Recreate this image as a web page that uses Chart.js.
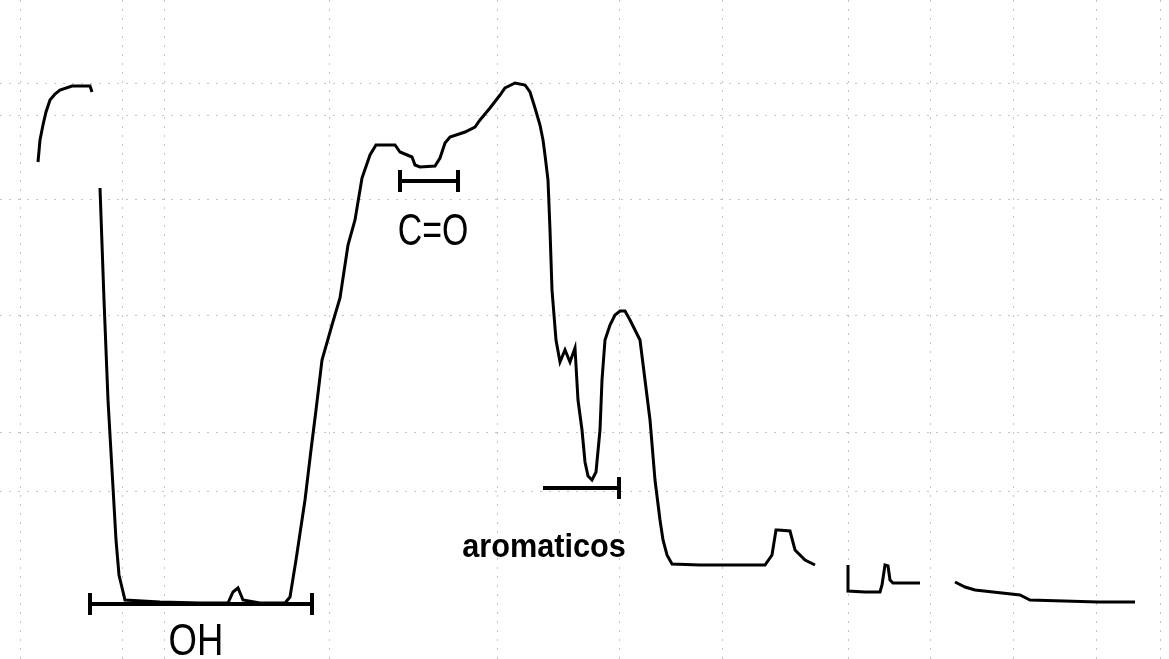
<!DOCTYPE html>
<html>
<head>
<meta charset="utf-8">
<script src="https://cdn.jsdelivr.net/npm/chart.js@4/dist/chart.umd.min.js"></script>
<style>
  body { margin: 0; background: #fff; }
  #wrap { width: 1169px; height: 659px; }
</style>
</head>
<body>
<div id="wrap"><canvas id="espectro"></canvas></div>
<script>
// posicion horizontal del trazo (unidades del papel) y transmitancia leida (0 arriba)
var posX = [38, 40, 43, 46, 50, 55, 60, 72, 90, 92, null,
    100, 104, 108, 112, 116, 119, 125, 160, 200, 228, 233, 238, 243, 260, 285,
    290, 296, 305, 311, 316, 322, 332, 340, 348, 355, 362, 370, 376, 395, 400,
    412, 415, 420, 435, 440, 445, 450, 465, 475, 480, 490, 500, 505, 515, 525,
    530, 535, 540, 543, 545, 548, 550, 552, 556, 560, 565, 570, 575, 578, 582,
    585, 588, 592, 596, 600, 602, 605, 610, 615, 620, 625, 630, 640, 645, 650,
    655, 660, 663, 667, 672, 700, 765, 772, 776, 778, 790, 795, 805, 815, null,
    848, 848, 865, 880, 882, 885, 888, 890, 893, 920, null,
    955, 965, 975, 1020, 1030, 1098, 1135];
var transm = [162, 140, 125, 112, 100, 94, 90, 86, 86, 92, null,
    188, 300, 400, 470, 540, 575, 600, 602, 603, 603, 592, 588, 600, 603, 603,
    597, 560, 500, 450, 410, 360, 325, 298, 245, 220, 178, 155, 145, 145, 152,
    157, 165, 167, 166, 158, 143, 137, 132, 127, 120, 108, 95, 88, 83, 85,
    92, 108, 125, 140, 155, 180, 230, 290, 340, 362, 350, 362, 348, 400, 430,
    462, 476, 480, 472, 430, 380, 340, 325, 315, 311, 311, 320, 340, 380, 420,
    480, 520, 540, 555, 564, 565, 565, 555, 530, 530, 531, 550, 560, 565, null,
    565, 591, 592, 592, 585, 565, 566, 580, 583, 583, null,
    582, 587, 590, 595, 600, 602, 602];

// barras de las bandas: inicio, fin, altura
var bandas = ['OH', 'C=O', 'aromaticos'];
var bandaIni = [90, 400, 543];
var bandaFin = [312, 458, 619];
var bandaY = [604, 181, 488];
// posicion de los textos (centro, linea base)
var textoX = [196, 433, 544];
var textoY = [655, 245, 557];

// lineas punteadas de la cuadricula
var gridX = [20, 122, 165, 330, 497, 620, 722, 848, 930, 1013, 1096, 1160];
var gridY = [83, 115, 199, 315, 432, 492];

var trazo = [];
for (var i = 0; i < posX.length; i++) {
    if (posX[i] === null) {
        trazo.push({ x: trazo[trazo.length - 1].x + 1, y: null });
    } else {
        trazo.push({ x: posX[i], y: transm[i] });
    }
}

var barras = [];
for (var b = 0; b < bandas.length; b++) {
    var capIzq = b < 2 ? 11 : 0;
    barras.push({ x: bandaIni[b], y: bandaY[b] - capIzq });
    barras.push({ x: bandaIni[b], y: bandaY[b] + capIzq });
    barras.push({ x: bandaIni[b], y: bandaY[b] });
    barras.push({ x: bandaFin[b], y: bandaY[b] });
    barras.push({ x: bandaFin[b], y: bandaY[b] - 11 });
    barras.push({ x: bandaFin[b], y: bandaY[b] + 11 });
    barras.push({ x: bandaFin[b] + 1, y: null });
}

var etiquetas = {
    id: 'etiquetas',
    afterDatasetsDraw: function (chart) {
        var ctx = chart.ctx;
        var sx = chart.scales.x, sy = chart.scales.y;
        var fuentes = ['44px', '44px', 'bold 33px'];
        var estirar = [0.83, 0.77, 0.93];
        for (var k = 0; k < bandas.length; k++) {
            ctx.save();
            ctx.fillStyle = '#000';
            ctx.textAlign = 'center';
            ctx.textBaseline = 'alphabetic';
            ctx.font = fuentes[k] + ' "Liberation Sans", Arial, sans-serif';
            ctx.translate(sx.getPixelForValue(textoX[k]), sy.getPixelForValue(textoY[k]));
            ctx.scale(estirar[k], 1);
            ctx.fillText(bandas[k], 0, 0);
            ctx.restore();
        }
    }
};

function ejeOculto(min, max, marcas, invertir) {
    return {
        type: 'linear', min: min, max: max, reverse: invertir,
        afterBuildTicks: function (s) { s.ticks = marcas.map(function (v) { return { value: v }; }); },
        ticks: { display: false },
        border: { display: false, dash: [2, 7] },
        grid: { display: true, color: '#c4c4c4', lineWidth: 1, drawTicks: false }
    };
}

new Chart(document.getElementById('espectro'), {
    type: 'line',
    data: {
        datasets: [{
            label: 'espectro',
            data: trazo,
            borderColor: '#000',
            borderWidth: 3,
            pointRadius: 0,
            tension: 0,
            spanGaps: false
        }, {
            label: 'bandas',
            data: barras,
            borderColor: '#000',
            borderWidth: 4,
            pointRadius: 0,
            tension: 0,
            spanGaps: false
        }]
    },
    options: {
        responsive: true,
        maintainAspectRatio: false,
        animation: false,
        layout: { padding: 0 },
        plugins: { legend: { display: false }, tooltip: { enabled: false } },
        scales: {
            x: ejeOculto(0, 1169, gridX, false),
            y: ejeOculto(0, 659, gridY, true)
        }
    },
    plugins: [etiquetas]
});
</script>
</body>
</html>
